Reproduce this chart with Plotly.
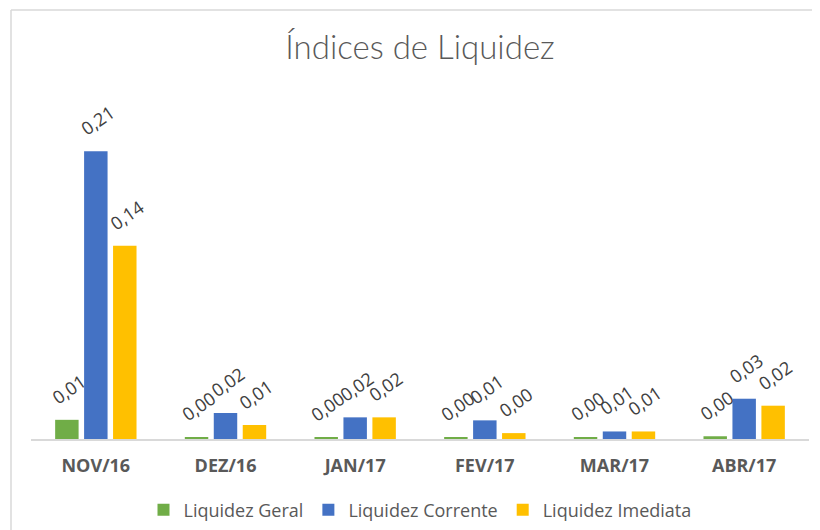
import plotly.graph_objects as go

categorias = ["NOV/16", "DEZ/16", "JAN/17", "FEV/17", "MAR/17", "ABR/17"]
liquidez_geral = [0.014, 0.0012, 0.0012, 0.0012, 0.0012, 0.002]
liquidez_corrente = [0.21, 0.019, 0.0158, 0.0136, 0.0055, 0.0294]
liquidez_imediata = [0.141, 0.0102, 0.0158, 0.0043, 0.0055, 0.0243]

series = [
    ("Liquidez Geral", liquidez_geral, "#70AD47"),
    ("Liquidez Corrente", liquidez_corrente, "#4472C4"),
    ("Liquidez Imediata", liquidez_imediata, "#FFC000"),
]

BARGAP = 0.33
slot = (1 - BARGAP) / len(series)

fig = go.Figure()
annotations = []
for j, (nome, valores, cor) in enumerate(series):
    fig.add_trace(go.Bar(
        x=categorias, y=valores, name=nome,
        marker=dict(color=cor, line=dict(width=0)),
    ))
    for i, v in enumerate(valores):
        annotations.append(dict(
            x=i + (j - 1) * slot, y=v, xref="x", yref="y",
            text=f"{v:.2f}".replace(".", ","), showarrow=False,
            textangle=-35, yshift=31, xshift=2, xanchor="center", yanchor="middle",
            font=dict(family="Open Sans", size=18, color="#404040"),
        ))

# light frame (top and left edges visible); page has an 8px body margin
W, H = 812, 522
L, T, R, B = 23, 72, 11, 91
pw, ph = W - L - R, H - T - B
x0 = (3 - L) / pw
y0 = 1 + (T - 2) / ph
shapes = [
    dict(type="line", xref="paper", yref="paper", x0=x0, x1=1.2, y0=y0, y1=y0,
         line=dict(color="#d9d9d9", width=1.5)),
    dict(type="line", xref="paper", yref="paper", x0=x0, x1=x0, y0=y0, y1=-0.5,
         line=dict(color="#d9d9d9", width=1.5)),
]

fig.update_layout(
    width=W, height=H,
    margin=dict(l=L, r=R, t=T, b=B),
    paper_bgcolor="white", plot_bgcolor="white",
    barmode="group", bargap=BARGAP, bargroupgap=0.19,
    annotations=annotations, shapes=shapes,
    title=dict(text="Índices de Liquidez", x=412 / W, xanchor="center",
               y=1 - 39 / H, yanchor="middle",
               font=dict(family="Lato", size=33, color="#595959", weight=300)),
    xaxis=dict(showline=True, linecolor="#d9d9d9", linewidth=1.5, ticks="",
               tickfont=dict(family="Open Sans", size=18, color="#595959", weight="bold"),
               ticklabelstandoff=10, showgrid=False),
    yaxis=dict(range=[0, 0.262], visible=False, showgrid=False, zeroline=False),
    legend=dict(orientation="h", x=0.5, xanchor="center",
                yref="container", y=1 - 502 / H, yanchor="middle",
                font=dict(family="Open Sans", size=18, color="#595959"),
                itemwidth=30, traceorder="normal"),
    showlegend=True,
)

fig.write_html("out.html")
